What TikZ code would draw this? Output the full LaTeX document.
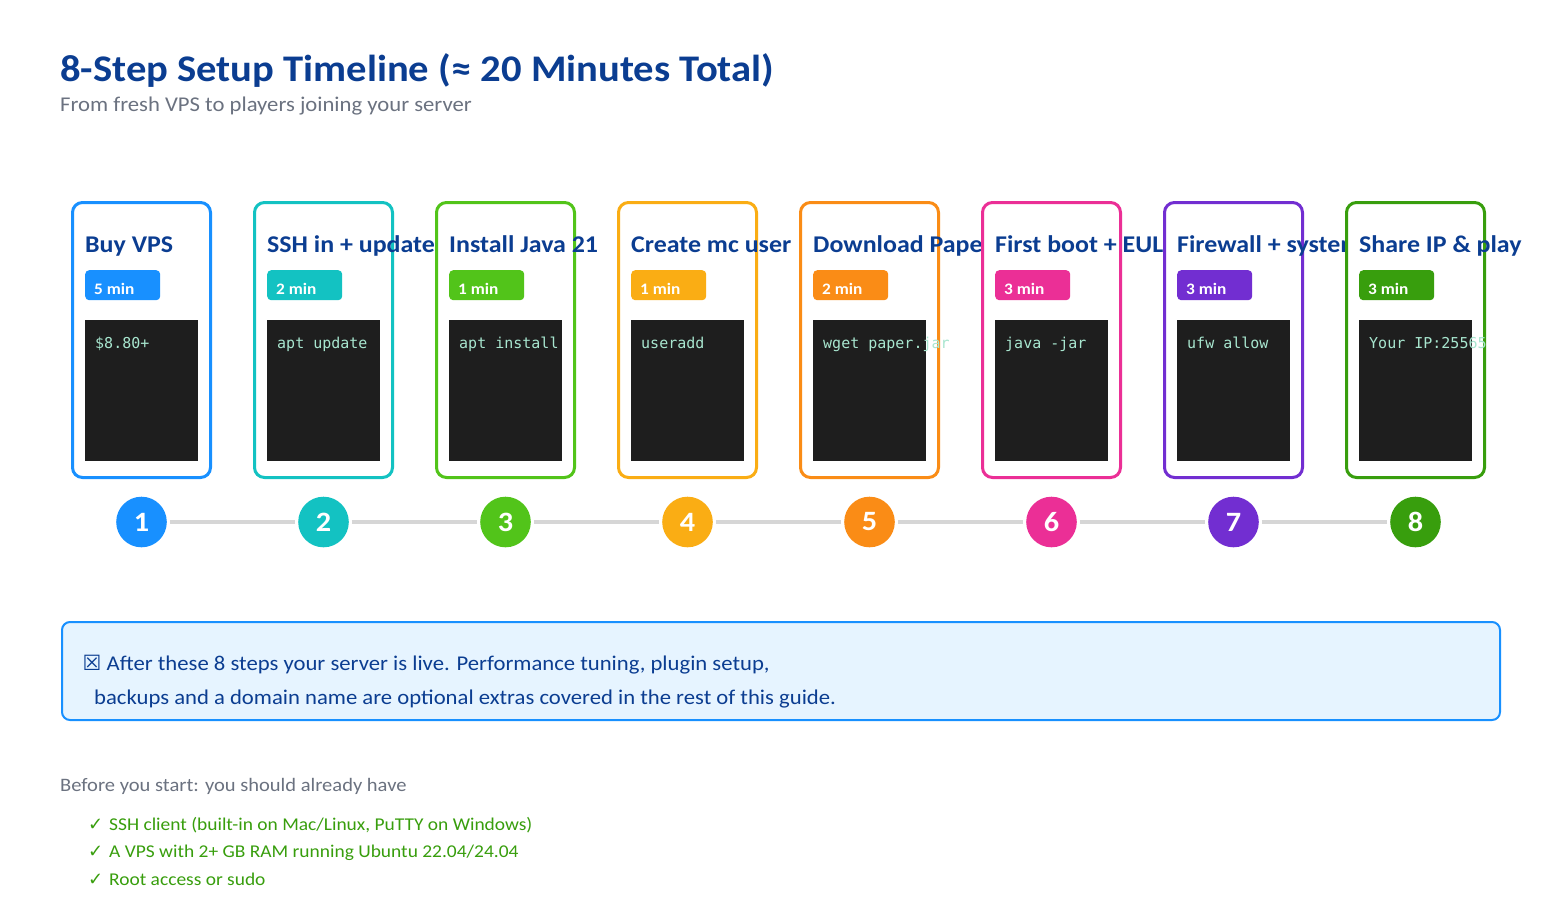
\documentclass[tikz,border=0pt]{standalone}
\usepackage{fontspec}
\setmainfont{Carlito}[FakeStretch=1.08]
\setmonofont{DejaVu Sans Mono}
\newfontfamily\symfont{DejaVu Sans}
\usepackage{xcolor}
\usetikzlibrary{positioning}
\definecolor{navy}{HTML}{0B3D91}
\definecolor{muted}{HTML}{6B7280}
\definecolor{termbg}{HTML}{1E1E1E}
\definecolor{termtext}{HTML}{A8E6CF}
\definecolor{trackgray}{HTML}{D6D6D6}
\definecolor{noteblue}{HTML}{1890FF}
\definecolor{notefill}{HTML}{E6F4FF}
\definecolor{okgreen}{HTML}{389E0D}
\definecolor{c1}{HTML}{1890FF}
\definecolor{c2}{HTML}{13C2C2}
\definecolor{c3}{HTML}{52C41A}
\definecolor{c4}{HTML}{FAAD14}
\definecolor{c5}{HTML}{FA8C16}
\definecolor{c6}{HTML}{EB2F96}
\definecolor{c7}{HTML}{722ED1}
\definecolor{c8}{HTML}{389E0D}
\tikzset{
  headline/.style={anchor=base west, inner sep=0pt, text=navy, font=\fontsize{37.6}{42}\selectfont\bfseries},
  subline/.style={anchor=base west, inner sep=0pt, text=muted, font=\fontsize{21}{25}\selectfont},
  card/.style={draw=#1, line width=3pt, rounded corners=10pt, fill=white, anchor=north west,
    minimum width=138pt, minimum height=275pt, inner sep=0pt, outer sep=0pt},
  cardtitle/.style={anchor=base west, inner sep=0pt, text=navy, font=\fontsize{24}{28}\selectfont\bfseries},
  badge/.style={fill=#1, rounded corners=4pt, anchor=north west, minimum width=75pt, minimum height=30pt, inner sep=0pt},
  badgetext/.style={anchor=base west, inner sep=0pt, text=white, font=\fontsize{16}{19}\selectfont\bfseries},
  term/.style={fill=termbg, anchor=north west, minimum width=113pt, minimum height=141pt, inner sep=0pt},
  cmd/.style={anchor=base west, inner sep=0pt, text=termtext, font=\fontsize{15}{18}\selectfont\ttfamily},
  stepnum/.style={circle, fill=#1, minimum size=50.6pt, inner sep=0pt, outer sep=3pt, text=white,
    font=\fontsize{28}{30}\selectfont\bfseries},
  track/.style={draw=trackgray, line width=4pt},
  notebox/.style={draw=noteblue, line width=2pt, fill=notefill, rounded corners=8pt, anchor=north west,
    minimum width=1438pt, minimum height=98pt, inner sep=0pt},
  notetext/.style={anchor=base west, inner sep=0pt, text=navy, font=\fontsize{21}{26}\selectfont},
  checktext/.style={anchor=base west, inner sep=0pt, text=okgreen, font=\fontsize{18}{22}\selectfont},
}
\begin{document}
\begin{tikzpicture}[x=1pt,y=-1pt]
  \useasboundingbox[fill=white] (0,0) rectangle (1560,900);
  % heading
  \node[headline] (head) at (60,81) {8-Step Setup Timeline (≈ 20 Minutes Total)};
  \node[subline] (sub) at (60,111) {From fresh VPS to players joining your server};
  % step cards
  \foreach \i/\col/\ttl/\mins/\cmd in {
      1/c1/Buy VPS/5/\$8.80+,
      2/c2/SSH in + update/2/apt update,
      3/c3/Install Java 21/1/apt install,
      4/c4/Create mc user/1/useradd,
      5/c5/Download Paper/2/wget paper.jar,
      6/c6/First boot + EULA/3/java -jar,
      7/c7/Firewall + systemd/3/ufw allow,
      8/c8/Share IP \& play/3/Your IP:25565}{
    \pgfmathsetmacro\cx{71+182*(\i-1)}
    \node[card=\col] (card\i) at (\cx+1.5,202.5) {};
    \node[cardtitle] (title\i) at (\cx+14,252) {\ttl};
    \node[badge=\col] (badge\i) at (\cx+14,270) {};
    \node[badgetext] (mins\i) at (\cx+23,294) {\mins\ min};
    \node[term] (term\i) at (\cx+14,320) {};
    \node[cmd] (cmd\i) at (\cx+24,348.5) {\cmd};
    \node[stepnum=\col] (num\i) at (\cx+70.5,522) {\i};
  }
  \foreach \i [evaluate=\i as \j using int(\i+1)] in {1,...,7}
    \draw[track] (num\i) -- (num\j);
  % note
  \node[notebox] (note) at (61,621) {};
  \node[notetext] (note1) at (82.5,670) {{\symfont ☒} After these 8 steps your server is live. Performance tuning, plugin setup,};
  \node[notetext] (note2) at (94,704) {backups and a domain name are optional extras covered in the rest of this guide.};
  % prerequisites
  \node[subline, font=\fontsize{19}{23}\selectfont] (pre) at (60,791) {Before you start: you should already have};
  \foreach \item [count=\k] in {{SSH client (built-in on Mac/Linux, PuTTY on Windows)},
      {A VPS with 2+ GB RAM running Ubuntu 22.04/24.04},
      {Root access or sudo}}{
    \node[checktext] (tick\k) at (88,{830+27.6*(\k-1)}) {{\symfont ✓}};
    \node[checktext] (item\k) at (109,{830+27.6*(\k-1)}) {\item};
  }
\end{tikzpicture}
\end{document}
